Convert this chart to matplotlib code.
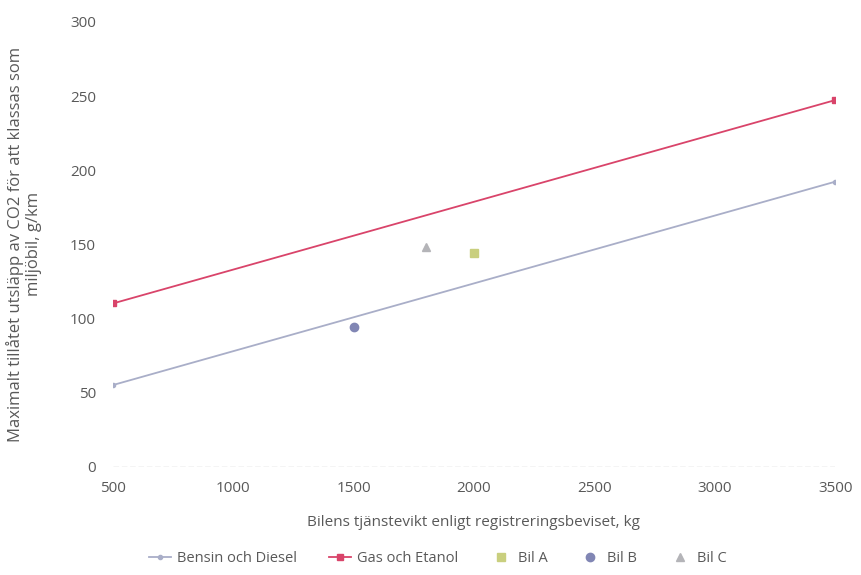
import numpy as np
import matplotlib
matplotlib.use("Agg")
import matplotlib.pyplot as plt

# ----------- data -----------
vikt_linje = [500, 3500]
bensin_diesel = [55.15, 192.25]
gas_etanol = [110.15, 247.25]

bil_a_x, bil_a_y = [2000], [144]
bil_b_x, bil_b_y = [1500], [94]
bil_c_x, bil_c_y = [1800], [148]

xticks = [500, 1000, 1500, 2000, 2500, 3000, 3500]
yticks = [0, 50, 100, 150, 200, 250, 300]

plt.rcParams['font.family'] = ['Open Sans', 'DejaVu Sans']
text_col = '#595959'

fig = plt.figure(figsize=(8.61, 5.75), dpi=100)
ax = fig.add_axes([0.131, 0.188, 0.839, 0.774])

ax.plot(vikt_linje, bensin_diesel, color='#a9aec8', lw=1.3, marker='o', ms=3,
        label='Bensin och Diesel')
ax.plot(vikt_linje, gas_etanol, color='#d9446a', lw=1.3, marker='s', ms=4,
        label='Gas och Etanol')
ax.plot(bil_a_x, bil_a_y, ls='none', marker='s', ms=6, color='#c9cf7e', label='Bil A')
ax.plot(bil_b_x, bil_b_y, ls='none', marker='o', ms=6, color='#8186b4', label='Bil B')
ax.plot(bil_c_x, bil_c_y, ls='none', marker='^', ms=6, color='#b4b4b8', label='Bil C')

ax.set_xlim(500, 3500)
ax.set_ylim(0, 300)
ax.set_xticks(xticks)
ax.set_yticks(yticks)
ax.tick_params(length=0, labelsize=11, colors=text_col, pad=12)
ax.tick_params(axis='x', pad=10)

for s in ax.spines.values():
    s.set_visible(False)
ax.axhline(0, color='#c8c8c8', lw=1, ls=(0, (4, 2)))

ax.set_xlabel('Bilens tjänstevikt enligt registreringsbeviset, kg', fontsize=11,
              color=text_col, labelpad=14)
ax.set_ylabel('Maximalt tillåtet utsläpp av CO2 för att klassas som\nmiljöbil, g/km',
              fontsize=12, color=text_col, labelpad=20)

ax.legend(loc='upper center', bbox_to_anchor=(0.45, -0.16), ncol=5, frameon=False,
          fontsize=10.5, labelcolor=text_col, handlelength=1.5, columnspacing=2.2,
          handletextpad=0.4)

plt.savefig('out.png', dpi=100)
